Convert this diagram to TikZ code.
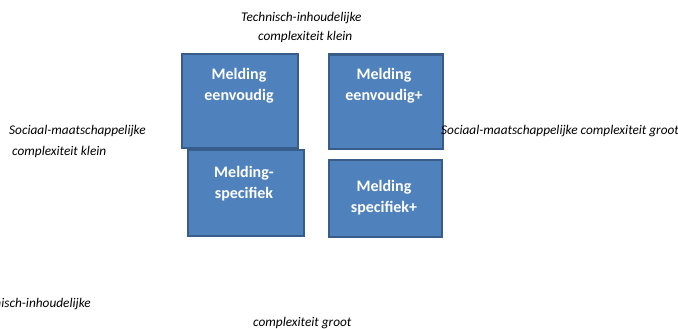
\documentclass[tikz,border=0pt]{standalone}
\usepackage{fontspec}
\setmainfont{Carlito}
\definecolor{boxfill}{HTML}{4F81BD}
\definecolor{boxline}{HTML}{385D8A}
\tikzset{
  mbox/.style={draw=boxline, line width=2.4pt, fill=boxfill, anchor=north west, inner sep=0pt},
  mtext/.style={text=white, font=\bfseries\fontsize{16}{21}\selectfont, align=center, anchor=center},
  lab/.style={font=\itshape\fontsize{13.3}{15}\selectfont, inner sep=0pt, anchor=base west}
}
\begin{document}
\begin{tikzpicture}[x=1pt,y=-1pt]
\useasboundingbox (0,0) rectangle (678,329);
\clip (0,0) rectangle (678,329);
% boxes
\node[mbox, minimum width=116pt, minimum height=94pt] (b1) at (181,53) {};
\node[mbox, minimum width=114pt, minimum height=94pt] (b2) at (327.5,53.5) {};
\node[mbox, minimum width=116pt, minimum height=86pt] (b3) at (186.5,149) {};
\node[mbox, minimum width=113pt, minimum height=77pt] (b4) at (328,159) {};
\node[mtext] (t1) at (239,86) {Melding\\eenvoudig};
\node[mtext] (t2) at (384,86) {Melding\\eenvoudig+};
\node[mtext] (t3) at (244,184) {Melding-\\specifiek};
\node[mtext] (t4) at (384,197.5) {Melding\\specifiek+};
% labels
\node[lab] (l1) at (241,22) {Technisch-inhoudelijke};
\node[lab] (l2) at (258,41) {complexiteit klein};
\node[lab] (l3) at (9,135) {Sociaal-maatschappelijke};
\node[lab] (l4) at (12,155) {complexiteit klein};
\node[lab] (l5) at (441,135) {Sociaal-maatschappelijke complexiteit groot};
\node[lab, anchor=base east] (l6) at (91,307) {Technisch-inhoudelijke};
\node[lab] (l7) at (253,326) {complexiteit groot};
\end{tikzpicture}
\end{document}
